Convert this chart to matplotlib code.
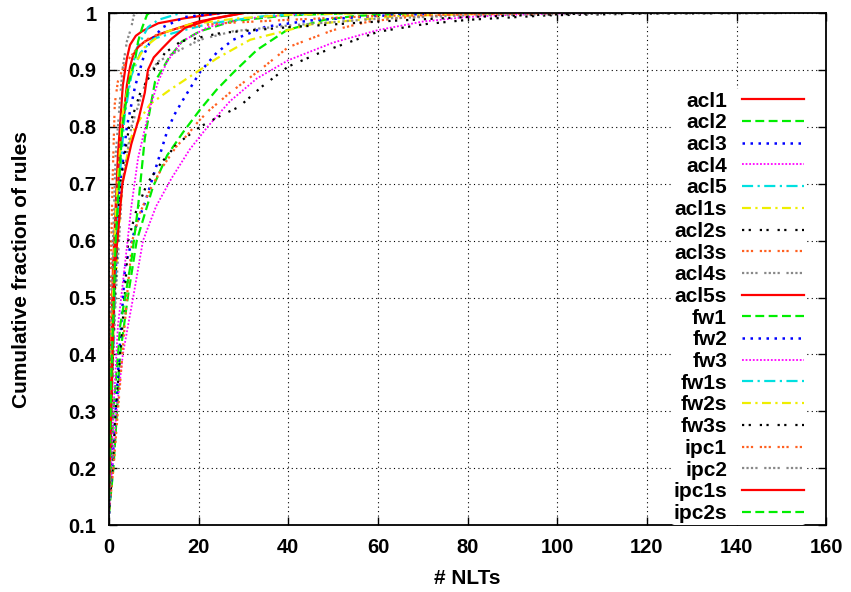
import matplotlib.pyplot as plt

# CDF curves: x = # NLTs, y = cumulative fraction of rules
acl1_x = [0, 0.3, 0.9, 2, 3.1, 4, 4.7, 6, 7.4, 11, 17, 25]
acl1_y = [0.2, 0.35, 0.55, 0.75, 0.873, 0.92, 0.944, 0.96, 0.968, 0.982, 0.991, 1.0]
acl2_x = [0, 1, 1.8, 2.5, 4.2, 6.2, 9.8, 13, 16.5, 20.3, 24, 27.7, 33, 39.7, 48, 55, 70]
acl2_y = [0.12, 0.2, 0.3, 0.4, 0.5, 0.6, 0.694, 0.75, 0.79, 0.83, 0.865, 0.895, 0.935, 0.97, 0.988, 0.995, 1.0]
acl3_x = [0, 0.7, 1.5, 2.3, 3.6, 5.8, 8, 10.3, 12.9, 14.5, 16.5, 20.3, 24, 27.7, 35, 45, 60, 75]
acl3_y = [0.12, 0.2, 0.3, 0.4, 0.554, 0.62, 0.666, 0.724, 0.79, 0.82, 0.847, 0.896, 0.93, 0.953, 0.976, 0.987, 0.995, 1.0]
acl4_x = [0, 0.7, 1.7, 3.1, 5.4, 7.6, 10.5, 14, 18, 22, 27, 33, 40, 50, 60, 70, 80, 90, 100, 110]
acl4_y = [0.13, 0.2, 0.3, 0.4, 0.5, 0.6, 0.66, 0.71, 0.76, 0.8, 0.845, 0.885, 0.917, 0.948, 0.97, 0.985, 0.993, 0.997, 0.999, 1.0]
acl5_x = [0, 0.5, 1, 2, 3, 4.7, 6.2, 8.7, 11, 16]
acl5_y = [0.15, 0.35, 0.5, 0.7, 0.8, 0.886, 0.938, 0.975, 0.988, 1.0]
acl1s_x = [0, 0.5, 1, 2, 3, 4.5, 5.8, 9.2, 13.6, 20.3, 24, 31.5, 45, 65, 90]
acl1s_y = [0.14, 0.3, 0.45, 0.6, 0.7, 0.77, 0.8, 0.84, 0.865, 0.9, 0.92, 0.953, 0.98, 0.995, 1.0]
acl2s_x = [0, 0.8, 1.5, 2.5, 3.5, 4.3, 6, 8.5, 11.5, 15.2, 20.3, 25, 29, 34, 40, 47, 60, 70, 80, 98, 120, 150]
acl2s_y = [0.12, 0.2, 0.3, 0.4, 0.5, 0.6, 0.65, 0.7, 0.735, 0.77, 0.8, 0.82, 0.835, 0.87, 0.906, 0.93, 0.967, 0.98, 0.988, 0.996, 0.999, 1.0]
acl3s_x = [0, 1, 2, 3, 4, 5.2, 7, 9.2, 12, 15, 17.4, 20, 22.5, 27, 33.7, 40, 45, 50, 58, 67, 80, 90]
acl3s_y = [0.12, 0.2, 0.3, 0.4, 0.5, 0.6, 0.65, 0.69, 0.73, 0.765, 0.785, 0.81, 0.83, 0.86, 0.9, 0.94, 0.955, 0.97, 0.985, 0.993, 0.998, 1.0]
acl4s_x = [0, 0.5, 1.5, 3, 5, 8.7, 11, 15.8, 20.3, 27.7, 40, 60, 80, 110, 150]
acl4s_y = [0.13, 0.3, 0.5, 0.7, 0.8, 0.89, 0.915, 0.935, 0.953, 0.968, 0.978, 0.99, 0.996, 0.999, 1.0]
acl5s_x = [0, 0.5, 1.1, 2.5, 4, 4.7, 5.4, 6.5, 8, 11, 14, 20, 30]
acl5s_y = [0.17, 0.35, 0.55, 0.76, 0.873, 0.905, 0.926, 0.94, 0.95, 0.962, 0.97, 0.985, 1.0]
fw1_x = [0, 1, 2.5, 5.1, 6.5, 8, 9.6, 10.3, 13.3, 16.3, 20.3, 27.7, 40, 55]
fw1_y = [0.12, 0.3, 0.45, 0.57, 0.66, 0.78, 0.85, 0.88, 0.92, 0.95, 0.968, 0.986, 0.996, 1.0]
fw2_x = [0, 0.5, 1.2, 2.5, 4, 5.8, 8, 9.2, 12, 17, 25]
fw2_y = [0.12, 0.3, 0.5, 0.7, 0.8, 0.87, 0.93, 0.95, 0.975, 0.993, 1.0]
fw3_x = [0, 1, 2, 3.6, 5, 6.5, 9, 11, 13, 16.3, 22, 30, 45]
fw3_y = [0.12, 0.3, 0.45, 0.56, 0.66, 0.745, 0.83, 0.88, 0.915, 0.95, 0.975, 0.99, 1.0]
fw1s_x = [0, 0.7, 1.5, 2.5, 3.5, 5, 7, 10, 15.8, 22.8, 35, 50]
fw1s_y = [0.14, 0.35, 0.55, 0.72, 0.82, 0.89, 0.93, 0.955, 0.968, 0.982, 0.995, 1.0]
fw2s_x = [0, 0.5, 1.5, 3, 5, 8, 12, 18, 28, 40, 60]
fw2s_y = [0.15, 0.4, 0.65, 0.82, 0.9, 0.94, 0.965, 0.98, 0.99, 0.997, 1.0]
fw3s_x = [0, 0.5, 1.2, 2.5, 4.5, 7, 9.6, 12.5, 16, 25, 40, 60, 80, 110]
fw3s_y = [0.13, 0.3, 0.5, 0.7, 0.8, 0.86, 0.896, 0.93, 0.95, 0.965, 0.975, 0.985, 0.993, 1.0]
ipc1_x = [0, 0.3, 0.8, 1.3, 2, 3.5, 6, 9.2, 15.8, 25, 40, 60, 100]
ipc1_y = [0.3, 0.5, 0.7, 0.84, 0.88, 0.91, 0.935, 0.958, 0.974, 0.982, 0.988, 0.995, 1.0]
ipc2_x = [0, 0.5, 1.5, 3, 4, 5, 5.5, 6]
ipc2_y = [0.2, 0.5, 0.75, 0.9, 0.95, 0.975, 0.995, 1.0]
ipc1s_x = [0, 0.5, 1.3, 3, 5, 6.5, 8, 8.7, 10, 11.9, 14, 17, 23, 30]
ipc1s_y = [0.15, 0.3, 0.55, 0.7, 0.77, 0.81, 0.86, 0.9, 0.922, 0.938, 0.955, 0.974, 0.99, 1.0]
ipc2s_x = [0, 0.5, 1.5, 3, 4.5, 5.8, 6.5, 7.4, 8.5, 9]
ipc2s_y = [0.15, 0.35, 0.6, 0.8, 0.88, 0.916, 0.95, 0.974, 0.997, 1.0]

names = ['acl1', 'acl2', 'acl3', 'acl4', 'acl5', 'acl1s', 'acl2s', 'acl3s', 'acl4s', 'acl5s',
         'fw1', 'fw2', 'fw3', 'fw1s', 'fw2s', 'fw3s', 'ipc1', 'ipc2', 'ipc1s', 'ipc2s']
xs = [acl1_x, acl2_x, acl3_x, acl4_x, acl5_x, acl1s_x, acl2s_x, acl3s_x, acl4s_x, acl5s_x,
      fw1_x, fw2_x, fw3_x, fw1s_x, fw2s_x, fw3s_x, ipc1_x, ipc2_x, ipc1s_x, ipc2s_x]
ys = [acl1_y, acl2_y, acl3_y, acl4_y, acl5_y, acl1s_y, acl2s_y, acl3s_y, acl4s_y, acl5s_y,
      fw1_y, fw2_y, fw3_y, fw1s_y, fw2s_y, fw3s_y, ipc1_y, ipc2_y, ipc1s_y, ipc2s_y]

# gnuplot-like line types, cycling every 9
styles = [
    ('#ff0000', '-', 1.6),
    ('#00ee00', (0, (4, 2)), 1.6),
    ('#0000ff', (0, (1, 2.2)), 1.8),
    ('#ff00ff', (0, (1, 1)), 1.3),
    ('#00e0e0', (0, (5, 2, 1, 2)), 1.6),
    ('#eeee00', (0, (4, 2, 1, 2)), 1.6),
    ('#000000', (0, (1, 2, 1, 4)), 1.6),
    ('#ff6020', (0, (1, 1, 1, 1, 1, 3)), 1.6),
    ('#888888', (0, (1, 1, 1, 1, 1, 1, 1, 3)), 1.6),
]

plt.rcParams['font.family'] = ['Liberation Sans', 'DejaVu Sans']
plt.rcParams['font.weight'] = 'bold'

fig = plt.figure(figsize=(8.51, 5.92), dpi=100)
ax = fig.add_axes([0.128, 0.113, 0.843, 0.865])

for i in range(len(names)):
    c, ls, lw = styles[i % 9]
    ax.plot(xs[i], ys[i], color=c, linestyle=ls, linewidth=lw, label=names[i])

ax.set_xlim(0, 160)
ax.set_ylim(0.1, 1)
ax.set_xticks(range(0, 161, 20))
ax.set_yticks([0.1, 0.2, 0.3, 0.4, 0.5, 0.6, 0.7, 0.8, 0.9, 1.0])
ax.set_yticklabels(['0.1', '0.2', '0.3', '0.4', '0.5', '0.6', '0.7', '0.8', '0.9', '1'])
ax.tick_params(direction='in', length=6, width=1, top=True, right=True, labelsize=14.5)
ax.tick_params(axis='x', pad=9)
ax.tick_params(axis='y', pad=9)
for lab in ax.get_xticklabels() + ax.get_yticklabels():
    lab.set_fontweight('bold')
for s in ax.spines.values():
    s.set_linewidth(1.3)
ax.grid(True, color='black', linestyle=(0, (1, 3)), linewidth=0.8)
ax.set_axisbelow(True)

ax.set_xlabel('# NLTs', fontsize=15, fontweight='bold', labelpad=9)
ax.set_ylabel('Cumulative fraction of rules', fontsize=15, fontweight='bold', labelpad=27)

leg = ax.legend(loc='lower right', bbox_to_anchor=(0.972, 0.0), markerfirst=False,
                fontsize=15, handlelength=3.0, handletextpad=0.7, labelspacing=0.13,
                frameon=True, facecolor='white', edgecolor='none', framealpha=1,
                borderpad=0.1, borderaxespad=0)
for t in leg.get_texts():
    t.set_fontweight('bold')
# right-align the labels against the line samples, like gnuplot's key
for col in leg._legend_box.get_children()[1].get_children():
    col.align = 'right'

fig.savefig('out.png', dpi=100)
